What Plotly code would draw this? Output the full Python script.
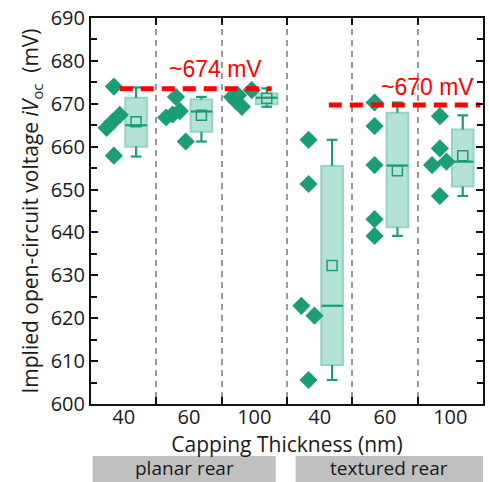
import plotly.graph_objects as go

# ---------------- data ----------------
categories = ["40", "60", "100", "40", "60", "100"]
groups = ["planar rear", "textured rear"]

diamond_values = [
    [674.0, 667.4, 665.8, 664.4, 657.9],
    [671.6, 668.3, 667.5, 666.8, 661.2],
    [671.6, 672.0, 669.3, 673.2, 670.6],
    [661.6, 651.3, 622.9, 620.6, 605.6],
    [670.3, 664.8, 655.7, 643.1, 639.2],
    [667.1, 659.6, 655.7, 656.5, 648.5],
]
diamond_jitter = [
    [-0.15, -0.06, -0.17, -0.26, -0.15],
    [-0.20, -0.14, -0.25, -0.35, -0.05],
    [-0.34, -0.25, -0.19, -0.04, -0.28],
    [-0.17, -0.17, -0.28, -0.08, -0.17],
    [-0.16, -0.16, -0.16, -0.16, -0.16],
    [-0.16, -0.16, -0.28, -0.06, -0.16],
]
box_q1 = [660.0, 663.5, 669.9, 609.1, 641.2, 650.7]
box_median = [665.0, 668.2, 671.4, 622.9, 655.6, 656.5]
box_q3 = [671.4, 671.0, 672.4, 655.5, 667.9, 664.0]
box_min = [657.7, 661.2, 669.3, 605.6, 639.2, 648.5]
box_max = [673.8, 671.6, 673.6, 661.6, 670.3, 667.3]
box_mean = [665.8, 667.3, 671.3, 632.3, 654.4, 657.9]

ref_levels = [673.5, 669.7]
ref_labels = ["~674 mV", "~670 mV"]

# ---------------- style ----------------
TEAL = "#1b9e77"
BOX_FILL = "#b5e2d6"
BOX_LINE = "#93d3c2"
AX_FONT = "Open Sans, DejaVu Sans, sans-serif"
BOX_OFF = 0.19
BOX_W = 0.33

fig = go.Figure()

# boxes
for i in range(len(categories)):
    fig.add_trace(go.Box(
        x=[i + BOX_OFF], q1=[box_q1[i]], median=[box_median[i]], q3=[box_q3[i]],
        lowerfence=[box_q1[i]], upperfence=[box_q3[i]],
        width=BOX_W, fillcolor=BOX_FILL, line=dict(color=BOX_LINE, width=2),
        whiskerwidth=0, boxpoints=False, hoverinfo="skip", showlegend=False,
    ))

# medians, whiskers, caps
lx, ly = [], []
for i in range(len(categories)):
    c = i + BOX_OFF
    h = BOX_W / 2
    lx += [c - h, c + h, None]; ly += [box_median[i], box_median[i], None]
    lx += [c, c, None]; ly += [box_q3[i], box_max[i], None]
    lx += [c, c, None]; ly += [box_q1[i], box_min[i], None]
    lx += [c - h / 2, c + h / 2, None]; ly += [box_max[i], box_max[i], None]
    lx += [c - h / 2, c + h / 2, None]; ly += [box_min[i], box_min[i], None]
fig.add_trace(go.Scatter(x=lx, y=ly, mode="lines", line=dict(color=TEAL, width=2.2),
                         hoverinfo="skip", showlegend=False))

# means
fig.add_trace(go.Scatter(
    x=[i + BOX_OFF for i in range(len(categories))], y=box_mean, mode="markers",
    marker=dict(symbol="square-open", size=10, color=TEAL, line=dict(width=1.5)),
    hoverinfo="skip", showlegend=False))

# diamonds
dx, dy = [], []
for i, vals in enumerate(diamond_values):
    for v, j in zip(vals, diamond_jitter[i]):
        dx.append(i + j); dy.append(v)
fig.add_trace(go.Scatter(x=dx, y=dy, mode="markers",
                         marker=dict(symbol="diamond", size=14, color=TEAL),
                         hoverinfo="skip", showlegend=False))

# reference lines
ref_spans = [(-0.06, 2.26), (3.14, 5.46)]
for (x0, x1), lvl in zip(ref_spans, ref_levels):
    fig.add_trace(go.Scatter(x=[x0, x1], y=[lvl, lvl], mode="lines",
                             line=dict(color="#ff0000", width=5, dash="13px,8px"),
                             hoverinfo="skip", showlegend=False))

ref_text_pos = [(1.40, 678.0), (4.65, 674.0)]
for (tx, ty), lab in zip(ref_text_pos, ref_labels):
    fig.add_annotation(x=tx, y=ty, text=lab, showarrow=False, yanchor="middle",
                       font=dict(family="Liberation Sans, Arial", size=23, color="#ff0000"))

# group labels below
group_spans = [(-0.474, 2.327), (2.632, 5.5)]
for (x0, x1), g in zip(group_spans, groups):
    fig.add_shape(type="rect", xref="x", yref="paper", x0=x0, x1=x1, y0=-0.135, y1=-0.25,
                  fillcolor="#c0c0c0", line=dict(width=0), layer="below")
    fig.add_annotation(x=(x0 + x1) / 2, y=-0.165, xref="x", yref="paper", text=g,
                       showarrow=False, xanchor="center", yanchor="middle",
                       font=dict(family=AX_FONT, size=19, color="#1a1a1a"))

fig.update_layout(
    width=489, height=482,
    margin=dict(l=91, r=4, t=18, b=78),
    paper_bgcolor="white", plot_bgcolor="white",
    font=dict(family=AX_FONT, size=20, color="#1a1a1a"),
    showlegend=False,
)
fig.update_xaxes(
    range=[-0.5, 5.5], tickmode="array", tickvals=list(range(len(categories))),
    ticktext=categories, ticks="", showgrid=False, zeroline=False,
    showline=True, linecolor="#111", linewidth=2, mirror="ticks",
    tickfont=dict(size=20), ticklabelstandoff=-6,
    minor=dict(tickmode="array", tickvals=[0.5, 1.5, 2.5, 3.5, 4.5], ticks="inside",
               ticklen=7, tickcolor="#111", tickwidth=2, showgrid=True,
               gridcolor="#999999", gridwidth=1.5, griddash="6px,5px"),
    title=dict(text="Capping Thickness (nm)", standoff=0, font=dict(size=21)),
)
fig.update_yaxes(
    range=[600, 690], dtick=10, tick0=600, ticks="inside", ticklen=7, tickwidth=1.5,
    tickcolor="#111", showgrid=False, zeroline=False,
    showline=True, linecolor="#111", linewidth=2, mirror="ticks",
    tickfont=dict(size=20),
    minor=dict(dtick=5, ticks="inside", ticklen=6, tickwidth=1.5, tickcolor="#111"),
    title=dict(text="Implied open-circuit voltage <i>iV</i><sub>oc</sub>  (mV)",
               standoff=6, font=dict(size=21)),
)

fig.write_html("out.html")
